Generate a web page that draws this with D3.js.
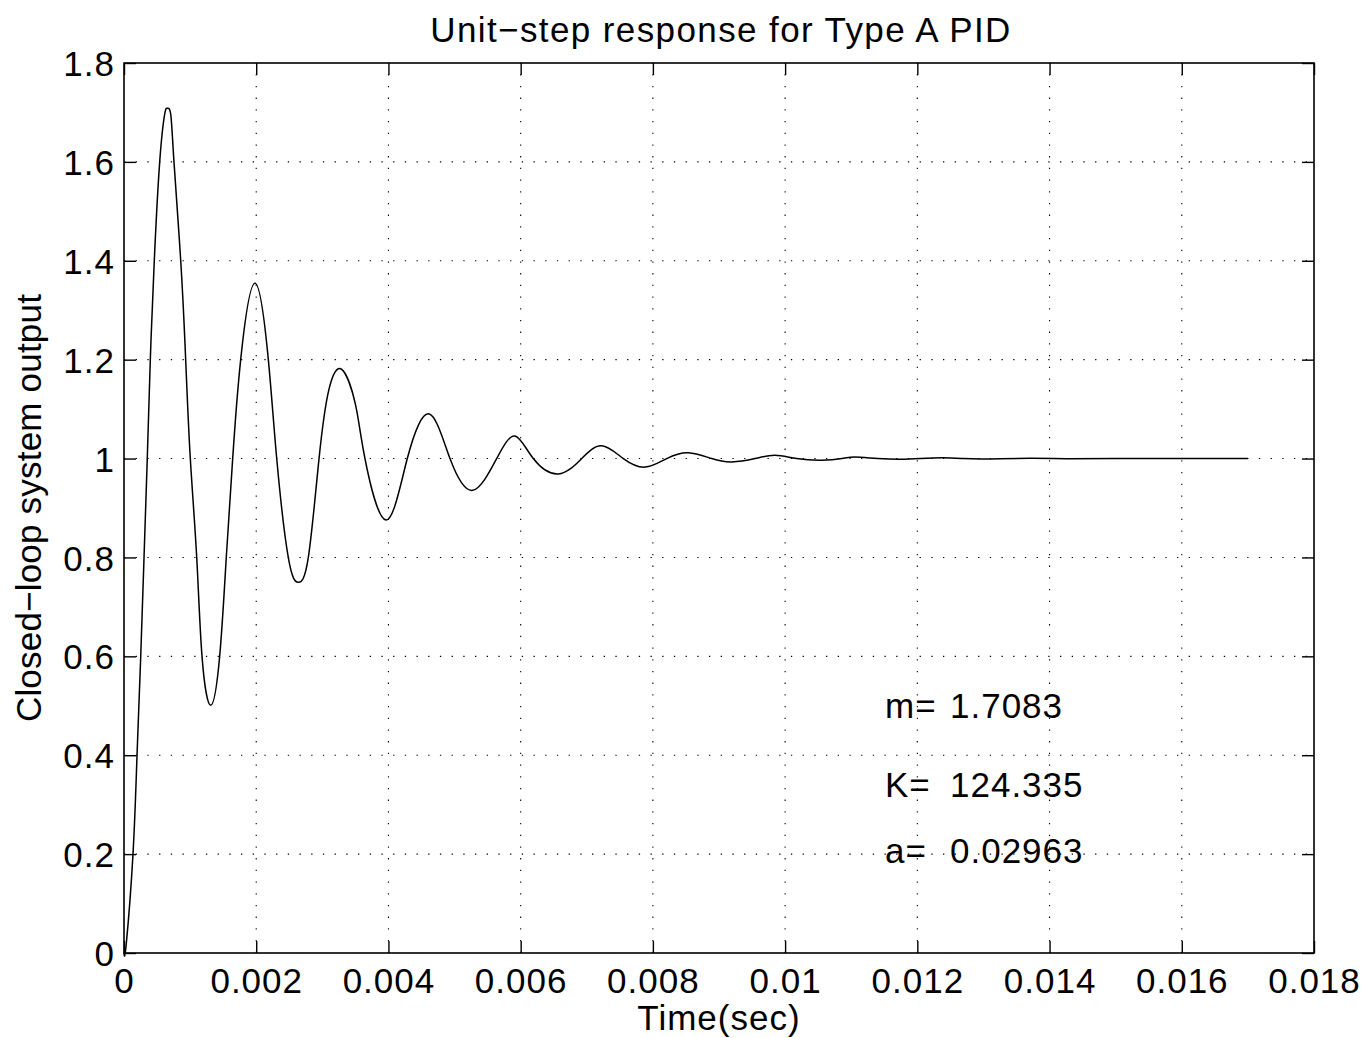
<!DOCTYPE html>
<html>
<head>
<meta charset="utf-8">
<script src="https://cdn.jsdelivr.net/npm/d3@7"></script>
<style>
  html, body { margin: 0; padding: 0; background: #fff; }
  text { font-family: "Liberation Sans", Arial, Helvetica, sans-serif; fill: #000; }
</style>
</head>
<body>
<svg id="chart" width="1366" height="1038"></svg>
<script>
// ---- data ----
const timeSec = [
  0, 0.0000348, 0.000136, 0.000197, 0.000253, 0.000303, 0.000352, 0.000398, 0.000458, 0.000540,
  0.000616, 0.000655, 0.000706, 0.000756, 0.000858, 0.000933, 0.001003, 0.001100, 0.001180, 0.001311,
  0.001447, 0.001547, 0.001644, 0.001765, 0.001982, 0.002183, 0.002310, 0.002485, 0.002637, 0.002788,
  0.002950, 0.003100, 0.003293, 0.003500, 0.003645, 0.003963, 0.004285, 0.004618, 0.004931, 0.005274,
  0.005637, 0.005914, 0.006191, 0.006570, 0.006923, 0.007226, 0.007553, 0.007881, 0.008209, 0.008536,
  0.008890, 0.009192, 0.009545, 0.009847, 0.010175, 0.010553, 0.010860, 0.011057, 0.011400, 0.011750,
  0.012050, 0.012380, 0.012700, 0.013030, 0.013700, 0.014300, 0.015000, 0.016000, 0.017000
];
const outputY = [
  0, 0.0196, 0.2, 0.4, 0.6, 0.8, 1.0, 1.2, 1.4, 1.6,
  1.697, 1.7083, 1.697, 1.6, 1.4, 1.2, 1.0, 0.8, 0.6, 0.501,
  0.6, 0.8, 1.0, 1.2, 1.3544, 1.2, 1.0, 0.8, 0.7497, 0.8,
  1.0, 1.14, 1.1805, 1.11, 1.0, 0.8757, 1.0, 1.0901, 1.0, 0.9357,
  1.0, 1.0456, 1.0, 0.9688, 1.0, 1.0257, 1.0, 0.9827, 1.0, 1.0119,
  1.0, 0.9932, 1.0, 1.0067, 1.0, 0.9966, 1.0, 1.0030, 1.0, 0.9985,
  1.0, 1.0015, 1.0, 0.9993, 1.0005, 0.9998, 1.0002, 1.0, 1.0
];
const xTicks = [0, 0.002, 0.004, 0.006, 0.008, 0.01, 0.012, 0.014, 0.016, 0.018];
const xTickLabels = ["0", "0.002", "0.004", "0.006", "0.008", "0.01", "0.012", "0.014", "0.016", "0.018"];
const yTicks = [0, 0.2, 0.4, 0.6, 0.8, 1, 1.2, 1.4, 1.6, 1.8];
const yTickLabels = ["0", "0.2", "0.4", "0.6", "0.8", "1", "1.2", "1.4", "1.6", "1.8"];
const titleText = "Unit\u2212step response for Type A PID";
const xLabelText = "Time(sec)";
const yLabelText = "Closed\u2212loop system output";
const annotationNames = ["m=", "K=", "a="];
const annotationValues = ["1.7083", "124.335", "0.02963"];
const annotationY = [0.5, 0.342, 0.207];

// ---- layout ----
const L = 124, R = 1314, T = 63, B = 953;
const svg = d3.select("#chart");

const x = d3.scaleLinear().domain([0, 0.018]).range([L, R]);
const y = d3.scaleLinear().domain([0, 1.8]).range([B, T]);

// grid
const grid = svg.append("g").attr("stroke", "#000").attr("stroke-width", 1.1)
  .attr("stroke-dasharray", "1.3,10.4").attr("fill", "none");
xTicks.slice(1, -1).forEach(v => {
  grid.append("line").attr("x1", x(v)).attr("x2", x(v)).attr("y1", B).attr("y2", T);
});
yTicks.slice(1, -1).forEach(v => {
  grid.append("line").attr("x1", L).attr("x2", R).attr("y1", y(v)).attr("y2", y(v));
});

// axes with inward ticks
const tickLen = 12;
const fs = 35;
const ls = "1px";
const axB = svg.append("g").attr("transform", `translate(0,${B})`)
  .call(d3.axisBottom(x).tickValues(xTicks).tickSizeInner(-tickLen).tickSizeOuter(0)
    .tickFormat((d, i) => xTickLabels[i]).tickPadding(15));
const axT = svg.append("g").attr("transform", `translate(0,${T})`)
  .call(d3.axisTop(x).tickValues(xTicks).tickSizeInner(-tickLen).tickSizeOuter(0).tickFormat(""));
const axL = svg.append("g").attr("transform", `translate(${L},0)`)
  .call(d3.axisLeft(y).tickValues(yTicks).tickSizeInner(-tickLen).tickSizeOuter(0)
    .tickFormat((d, i) => yTickLabels[i]).tickPadding(9));
const axR = svg.append("g").attr("transform", `translate(${R},0)`)
  .call(d3.axisRight(y).tickValues(yTicks).tickSizeInner(-tickLen).tickSizeOuter(0).tickFormat(""));
[axB, axT, axL, axR].forEach(a => {
  a.selectAll(".domain").remove();
  a.selectAll(".tick line").attr("stroke", "#000").attr("stroke-width", 1.4);
  a.selectAll("text").attr("font-size", fs).attr("font-family", "Liberation Sans, Arial, sans-serif")
    .attr("fill", "#000").style("letter-spacing", ls);
});
axB.selectAll("text").attr("dy", "0.71em");
axL.selectAll("text").attr("dy", "0.36em");

// box
svg.append("rect").attr("x", L).attr("y", T).attr("width", R - L).attr("height", B - T)
  .attr("fill", "none").attr("stroke", "#000").attr("stroke-width", 1.6);

// curve
const pts = timeSec.map((t, i) => [t, outputY[i]]);
svg.append("path").datum(pts)
  .attr("fill", "none").attr("stroke", "#000").attr("stroke-width", 1.5)
  .attr("stroke-linejoin", "round")
  .attr("d", d3.line().x(d => x(d[0])).y(d => y(d[1])).curve(d3.curveNatural));

// annotations
annotationNames.forEach((s, i) => {
  svg.append("text").attr("x", 885).attr("y", y(annotationY[i]))
    .attr("dy", "0.36em").attr("font-size", fs).style("letter-spacing", ls).text(s);
  svg.append("text").attr("x", 950).attr("y", y(annotationY[i]))
    .attr("dy", "0.36em").attr("font-size", fs).style("letter-spacing", ls).text(annotationValues[i]);
});

// title & labels
svg.append("text").attr("x", (L + R) / 2 + 2).attr("y", 42).attr("text-anchor", "middle")
  .attr("font-size", fs).style("letter-spacing", "1.4px").text(titleText);
svg.append("text").attr("x", (L + R) / 2).attr("y", 1030).attr("text-anchor", "middle")
  .attr("font-size", fs).style("letter-spacing", ls).text(xLabelText);
svg.append("text").attr("transform", `translate(41,${(T + B) / 2}) rotate(-90)`)
  .attr("text-anchor", "middle").attr("font-size", fs).style("letter-spacing", "0.2px").text(yLabelText);
</script>
</body>
</html>
